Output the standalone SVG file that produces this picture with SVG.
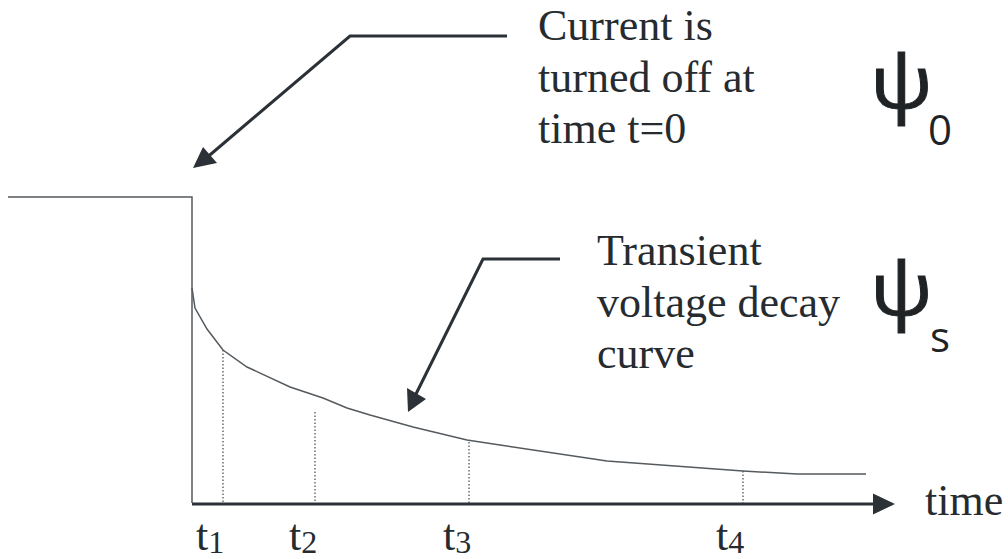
<svg xmlns="http://www.w3.org/2000/svg" width="1008" height="559" viewBox="0 0 1008 559">
<style>
.lbl{font-family:"Liberation Serif","Times New Roman",serif;font-size:44px;fill:#262b2f}
.sub{font-family:"Liberation Serif","Times New Roman",serif;font-size:32px;fill:#262b2f}
.psi{font-family:"Open Sans","Noto Sans",sans-serif;fill:#1f2326}
.big{font-size:74px;stroke:#1f2326;stroke-width:1}
.arrow{fill:none;stroke:#2b3136;stroke-width:3}
.thin{fill:none;stroke:#555a5e;stroke-width:1.5}
.dot{fill:none;stroke:#555;stroke-width:1.3;stroke-dasharray:1.5 2}
</style>
<rect width="1008" height="559" fill="#fff"/>
<g id="signal">
<polyline class="thin" points="8,197 192,197 192,503"/>
<polyline class="thin" stroke-width="1.3" points="192,288 195,308 207,329 223,350 247,367 290,387 323,398 347,408 370,415 413,427 467,440 500,445 607,461 743,471 797,474 866,474"/>
</g>
<g id="markers">
<line class="dot" x1="223" y1="350" x2="223" y2="503"/>
<line class="dot" x1="315" y1="412" x2="315" y2="503"/>
<line class="dot" x1="469" y1="442" x2="469" y2="503" stroke="#333" stroke-width="2"/>
<line class="dot" x1="743" y1="471" x2="743" y2="503"/>
</g>
<g id="axis">
<line x1="192" y1="504" x2="875" y2="504" stroke="#2b3136" stroke-width="3"/>
<path d="M873,493.5 L895,504 L873,514.5 z" fill="#2b3136"/>
<text class="lbl" x="925" y="515" font-size="42">time</text>
</g>
<g id="connectors">
<polyline class="arrow" points="507,36 350,36 204,160"/>
<path d="M193,168 L203,147 L217,163 z" fill="#2b3136"/>
<polyline class="arrow" points="560,259 483,259 413,400"/>
<path d="M408,412 L407,388 L426,399 z" fill="#2b3136"/>
</g>
<g id="note-current">
<text class="lbl"><tspan x="538" y="40">Current is</tspan><tspan x="538" y="92">turned off at</tspan><tspan x="538" y="143">time t=0</tspan></text>
</g>
<g id="note-transient">
<text class="lbl" font-size="43"><tspan x="597" y="265">Transient</tspan><tspan x="597" y="317">voltage decay</tspan><tspan x="597" y="368">curve</tspan></text>
</g>
<g id="psi0">
<text class="psi big" transform="translate(870,108) scale(1.12,1)">ψ</text>
<text class="psi" x="928" y="145" font-size="42">0</text>
</g>
<g id="psis">
<text class="psi big" transform="translate(870,315) scale(1.12,1)">ψ</text>
<text class="psi" x="930" y="352" font-size="42">s</text>
</g>
<g id="ticks">
<text class="lbl" x="196" y="550">t<tspan class="sub" y="553">1</tspan></text>
<text class="lbl" x="289" y="550">t<tspan class="sub" y="553">2</tspan></text>
<text class="lbl" x="443" y="550">t<tspan class="sub" y="553">3</tspan></text>
<text class="lbl" x="716" y="550">t<tspan class="sub" y="553">4</tspan></text>
</g>
</svg>
